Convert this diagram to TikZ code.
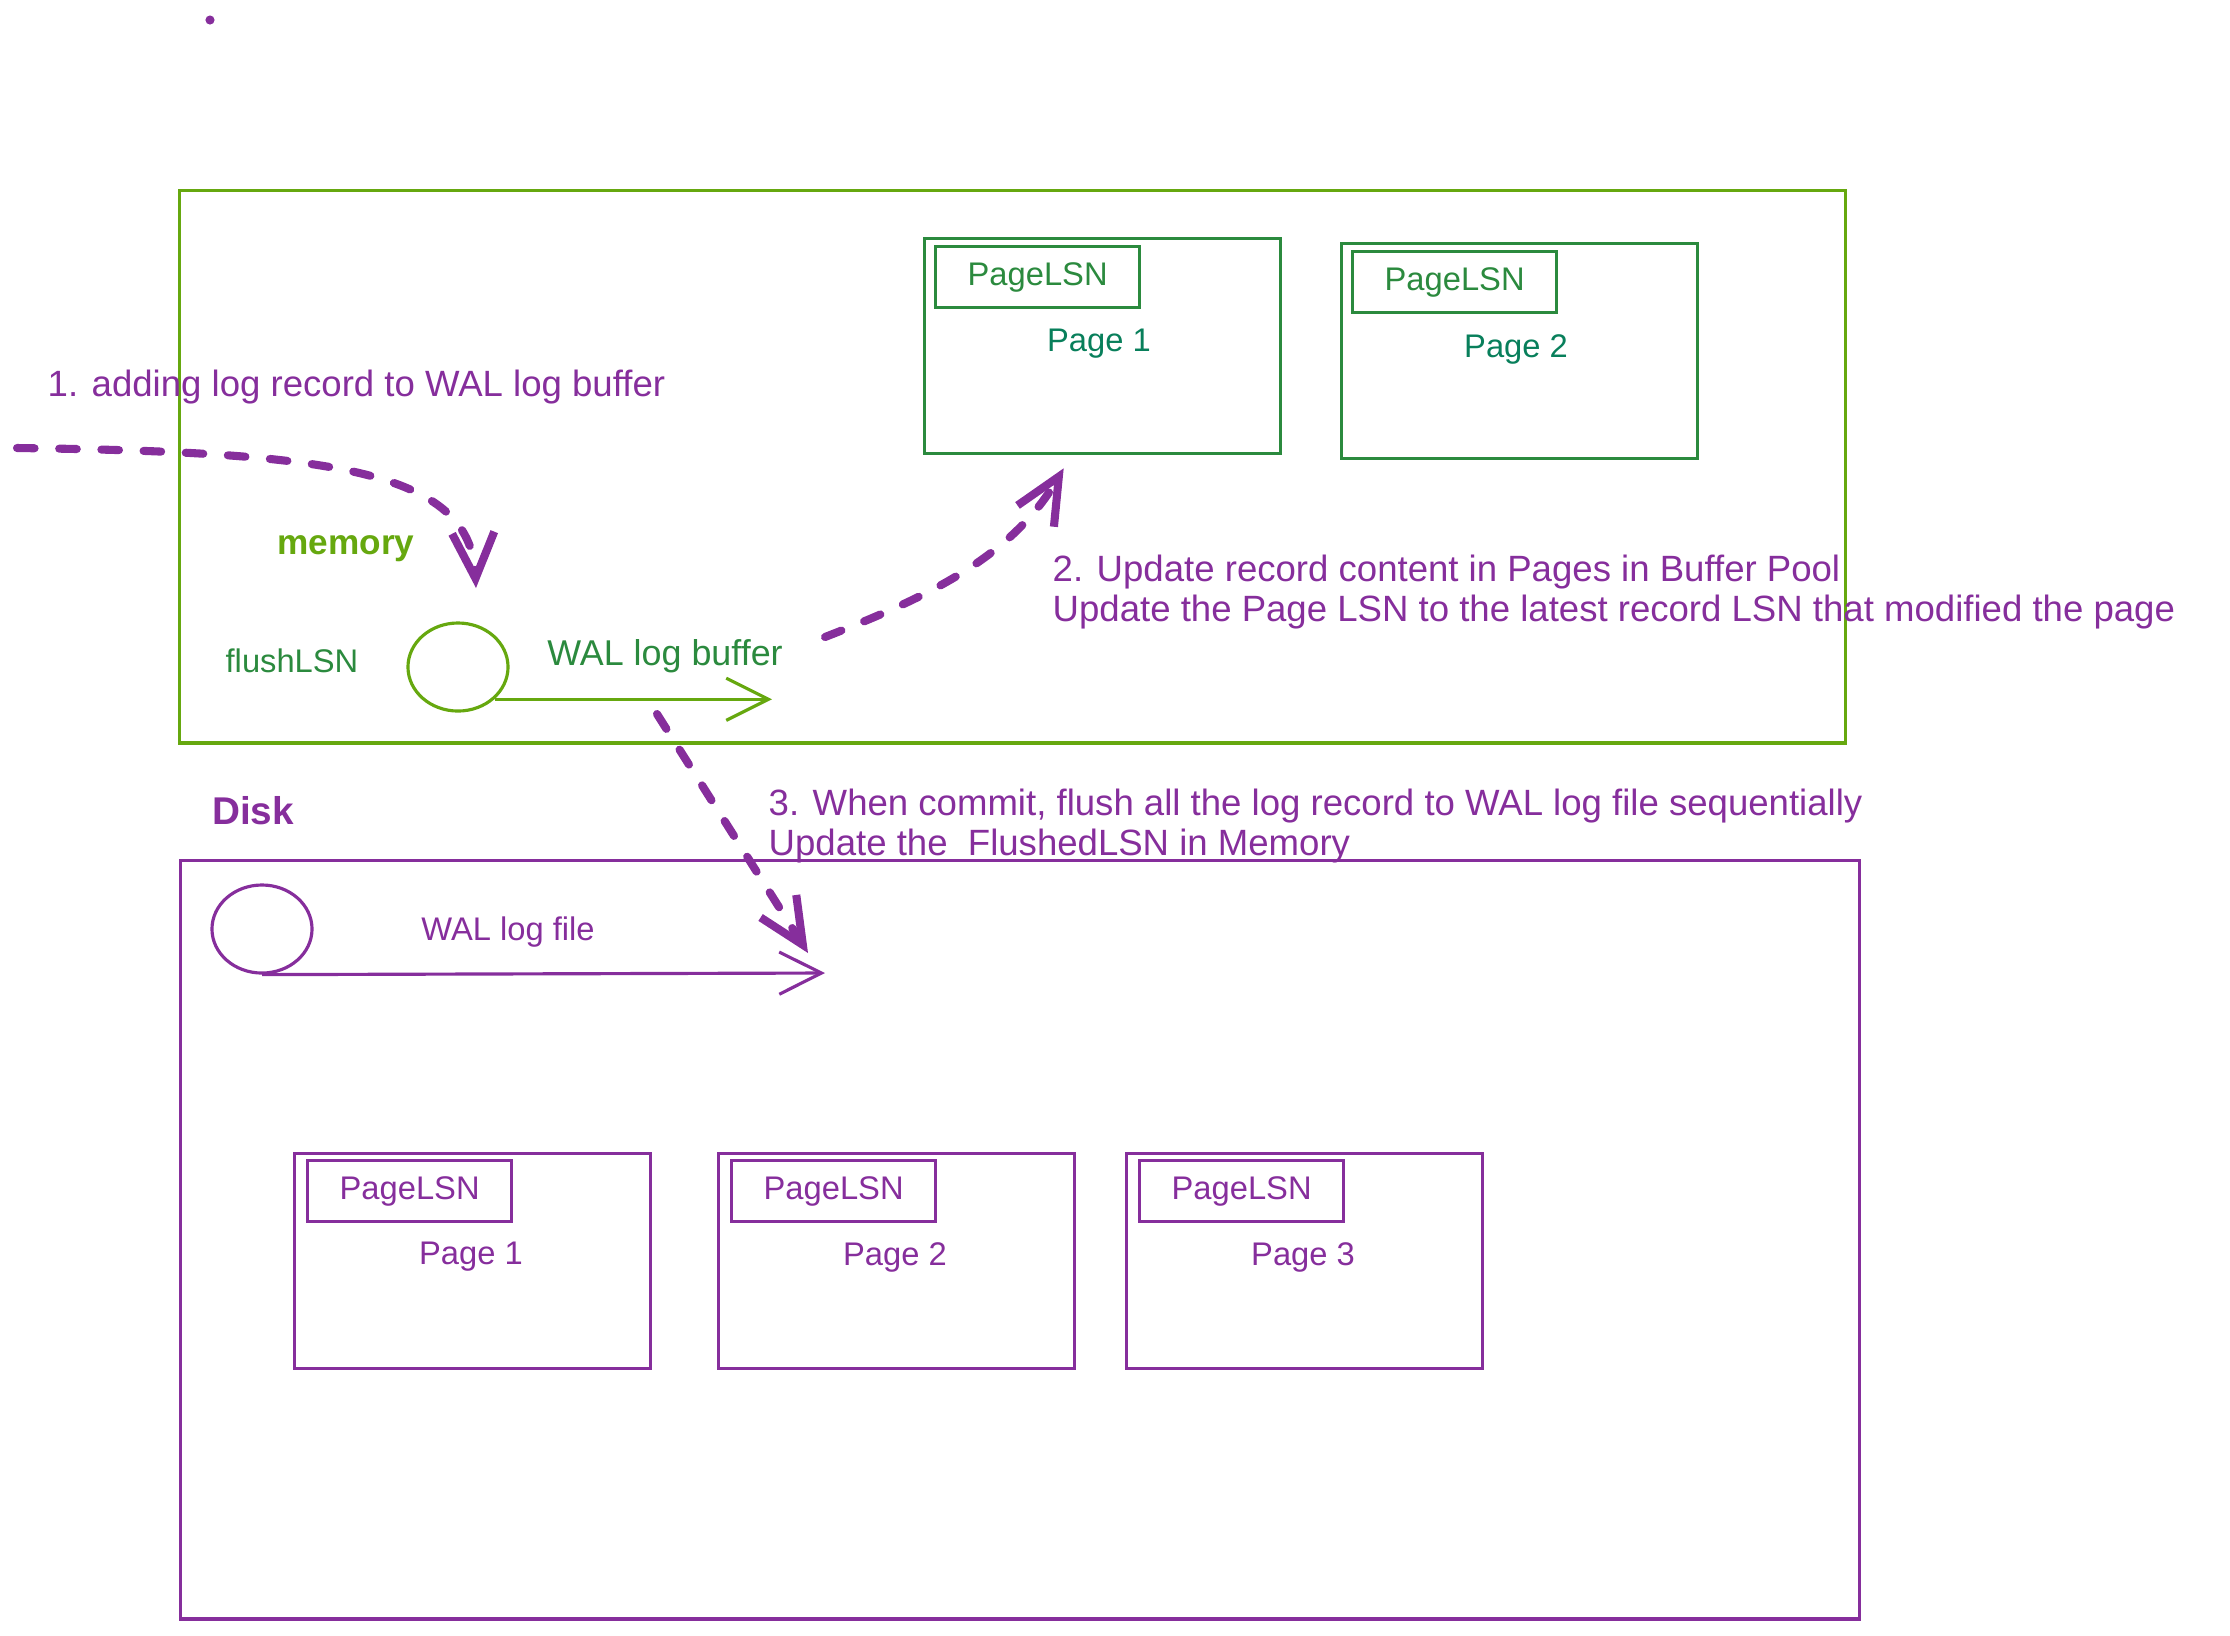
\documentclass[tikz,border=0pt]{standalone}
\usepackage{fontspec}
\setmainfont{Liberation Sans}
\usepackage{tikz}
\usetikzlibrary{arrows.meta,shapes.geometric}
\definecolor{grape}{HTML}{862E9C}
\definecolor{limegreen}{HTML}{66A80F}
\definecolor{leaf}{HTML}{2B8A3E}
\definecolor{pageteal}{HTML}{087F5B}

\begin{document}
\begin{tikzpicture}[x=0.01cm,y=-0.01cm,
	every node/.style={font=\fontsize{9.3}{11.4}\selectfont},
	box/.style={draw,line width=0.9pt},
	pagebox/.style={box,anchor=north west,minimum width=3.56cm,minimum height=2.15cm},
	lsnbox/.style={box,anchor=north west,minimum width=2.04cm,minimum height=0.61cm},
	logcircle/.style={box,ellipse,minimum width=1cm,minimum height=0.88cm,inner sep=0pt},
	logarrow/.style={line width=0.9pt,-{Straight Barb[length=12pt,width=12pt]}},
	steparrow/.style={grape,line width=2.3pt,dash pattern=on 5pt off 7pt,line cap=round,-{Straight Barb[length=13pt,width=12pt]}},
	note/.style={grape,anchor=west,align=left,inner xsep=0pt,font=\fontsize{10.4}{11.4}\selectfont}]
    \useasboundingbox (0,0) rectangle (2230,1635);
    \fill[grape] (210,20) circle[radius=1.3pt];

    % memory
    \node[box,limegreen,anchor=north west,minimum width=16.65cm,minimum height=5.52cm] (memory) at (178,189) {};
    \node[limegreen,font=\fontsize{10}{12}\selectfont\bfseries] (memlabel) at (346,549) {memory};
    \node[leaf] (flushlsn) at (292,661) {flushLSN};
    \node[logcircle,limegreen] (bc) at (458,667) {};
    \coordinate (bufend) at (772,699);
    \draw[logarrow,limegreen] (bc.south east) -- (bc.south east -| bufend);
    \node[leaf,font=\fontsize{10.2}{12}\selectfont] (buflabel) at (665,656) {WAL log buffer};
    \foreach \n/\x/\y in {1/923/237,2/1340/242}{
      \node[pagebox,leaf] (mp\n) at (\x,\y) {};
      \node[lsnbox,leaf] (mlsn\n) at ([shift={(11,8)}]mp\n.north west) {PageLSN};
      \node[pageteal] (mpt\n) at ([shift={(176,107)}]mp\n.north west) {Page \n};
    }

    % disk
    \node[grape,font=\fontsize{11}{13}\selectfont\bfseries] (disklabel) at (253,811) {Disk};
    \node[box,grape,anchor=north west,minimum width=16.78cm,minimum height=7.58cm] (disk) at (179,859) {};
    \node[logcircle,grape] (fc) at (262,929) {};
    \coordinate (fileend) at (825,973);
    \draw[logarrow,grape] (fc.south) -- (fileend);
    \node[grape] (filelabel) at (508,932) {WAL log file};
    \foreach \n/\x in {1/293,2/717,3/1125}{
      \node[pagebox,grape] (dp\n) at (\x,1152) {};
      \node[lsnbox,grape] (dlsn\n) at ([shift={(13,7)}]dp\n.north west) {PageLSN};
      \node[grape] (dpt\n) at ([shift={(178,105)}]dp\n.north west) {Page \n};
    }

    % steps
    \coordinate (in1) at (17,448);
    \coordinate (tip1) at (476,588);
    \node[note] (note1) at (47,387) {1. adding log record to WAL log buffer};
    \draw[steparrow] (in1) .. controls (330,452) and (470,470) .. (tip1);
    \node[note] (note2) at (1052,592) {2. Update record content in Pages in Buffer Pool\\Update the Page LSN to the latest record LSN that modified the page};
    \draw[steparrow] ([shift={(53,-62)}]bufend) .. controls (920,600) and (1010,560) .. ([shift={(-39,13)}]mp1.south);
    \node[note] (note3) at (768,826) {3. When commit, flush all the log record to WAL log file sequentially\\Update the\ \ FlushedLSN in Memory};
    \draw[steparrow] ([shift={(-115,15)}]bufend) -- ([shift={(-17,-20)}]fileend);
  \end{tikzpicture}
\end{document}
